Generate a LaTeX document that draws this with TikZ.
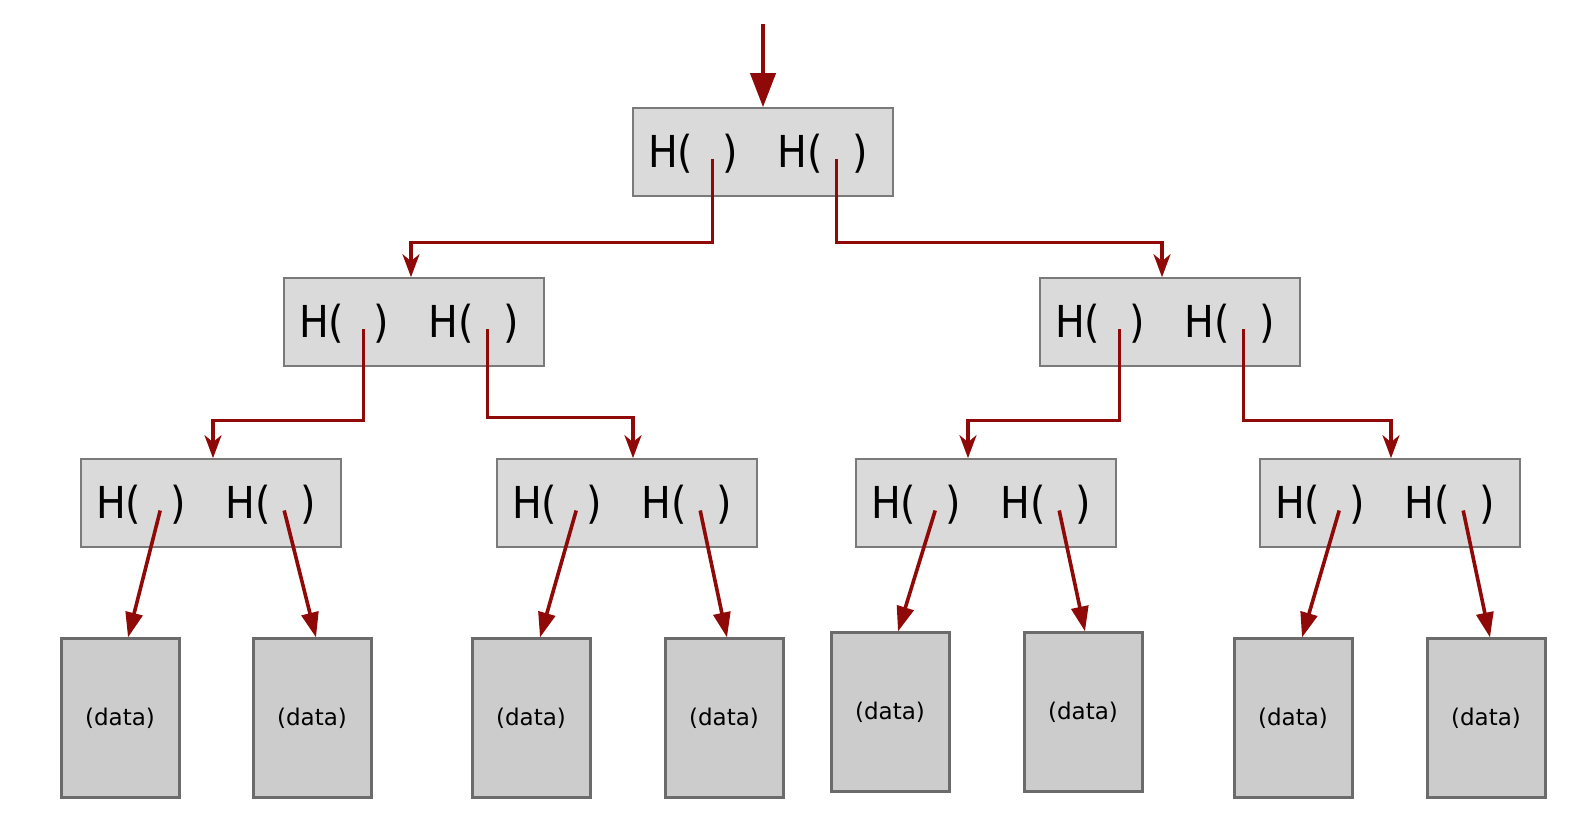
\documentclass[tikz,border=0pt]{standalone}
\usepackage{fontspec}
\newfontfamily\hashfont[FakeStretch=0.9]{DejaVu Sans}
\newfontfamily\datafont{DejaVu Sans}
\usepackage{xcolor}
\usepackage{tikz}
\usetikzlibrary{arrows.meta,positioning}

\definecolor{ptrred}{HTML}{900909}
\definecolor{hashgray}{HTML}{DADADA}
\definecolor{datagray}{HTML}{CCCCCC}
\newcommand{\hashpair}{H(\hspace{14.8pt})\hspace{19.8pt}H(\hspace{14.8pt})}

\begin{document}
\begin{tikzpicture}[
    x=0.5pt, y=-0.5pt,
    hashbox/.style={draw=black!52, line width=0.8pt, fill=hashgray, minimum height=44pt,
        text width=115pt, inner xsep=7.5pt, inner ysep=0pt, align=left,
        text height=16pt, text depth=0pt, font=\hashfont\fontsize{22}{24}\selectfont},
    datablock/.style={draw=black!58, line width=1.5pt, fill=datagray, minimum width=59pt,
        minimum height=79pt, inner sep=0pt, font=\datafont\fontsize{11.5}{13}\selectfont},
    feed/.style={draw=ptrred, line width=2pt, -{Triangle[length=17pt,width=12.5pt]}},
    link/.style={draw=ptrred, line width=1.7pt, -{Stealth[length=11.5pt,width=8.5pt,inset=3.5pt]}},
    leaf/.style={draw=ptrred, line width=1.8pt, -{Triangle[length=12.5pt,width=8.5pt]}}
]
\useasboundingbox (0,0) rectangle (1590,822);

% hash nodes
\node[hashbox] (root) at (763,152) {\hashpair};
\node[hashbox] (n0) at (414,322) {\hashpair};
\node[hashbox] (n1) at (1170,322) {\hashpair};
\node[hashbox] (n00) at (211,503) {\hashpair};
\node[hashbox] (n01) at (627,503) {\hashpair};
\node[hashbox] (n10) at (986,503) {\hashpair};
\node[hashbox] (n11) at (1390,503) {\hashpair};

% data blocks
\node[datablock] (d000) at (120,718) {(data)};
\node[datablock] (d001) at (312,718) {(data)};
\node[datablock] (d010) at (531,718) {(data)};
\node[datablock] (d011) at (724,718) {(data)};
\node[datablock] (d100) at (890,712) {(data)};
\node[datablock] (d101) at (1083,712) {(data)};
\node[datablock] (d110) at (1293,718) {(data)};
\node[datablock] (d111) at (1486,718) {(data)};

% pointer ends inside the brackets
\foreach \n in {root,n0,n1,n00,n01,n10,n11} {
    \coordinate (\n-l) at ([shift={(80,7.5)}]\n.west);
    \coordinate (\n-r) at ([shift={(204,7.5)}]\n.west);
}
\coordinate (in) at (763,24);

\draw[feed] (in) -- (root.north);

\draw[link] (root-l) -- ++(0,83) -| ([xshift=-1.5pt]n0.north);
\draw[link] (root-r) -- ++(0,83) -| ([xshift=-4pt]n1.north);
\draw[link] (n0-l) -- ++(0,91) -| ([xshift=1pt]n00.north);
\draw[link] (n0-r) -- ++(0,88) -| ([xshift=3pt]n01.north);
\draw[link] (n1-l) -- ++(0,91) -| ([xshift=-9pt]n10.north);
\draw[link] (n1-r) -- ++(0,91) -| ([xshift=0.5pt]n11.north);

\draw[leaf] (n00-l) -- ([xshift=4pt]d000.north);
\draw[leaf] (n00-r) -- ([xshift=2pt]d001.north);
\draw[leaf] (n01-l) -- ([xshift=4.5pt]d010.north);
\draw[leaf] (n01-r) -- ([xshift=1.5pt]d011.north);
\draw[leaf] (n10-l) -- ([xshift=4pt]d100.north);
\draw[leaf] (n10-r) -- ([xshift=1pt]d101.north);
\draw[leaf] (n11-l) -- ([xshift=4.5pt]d110.north);
\draw[leaf] (n11-r) -- ([xshift=2pt]d111.north);
\end{tikzpicture}
\end{document}
